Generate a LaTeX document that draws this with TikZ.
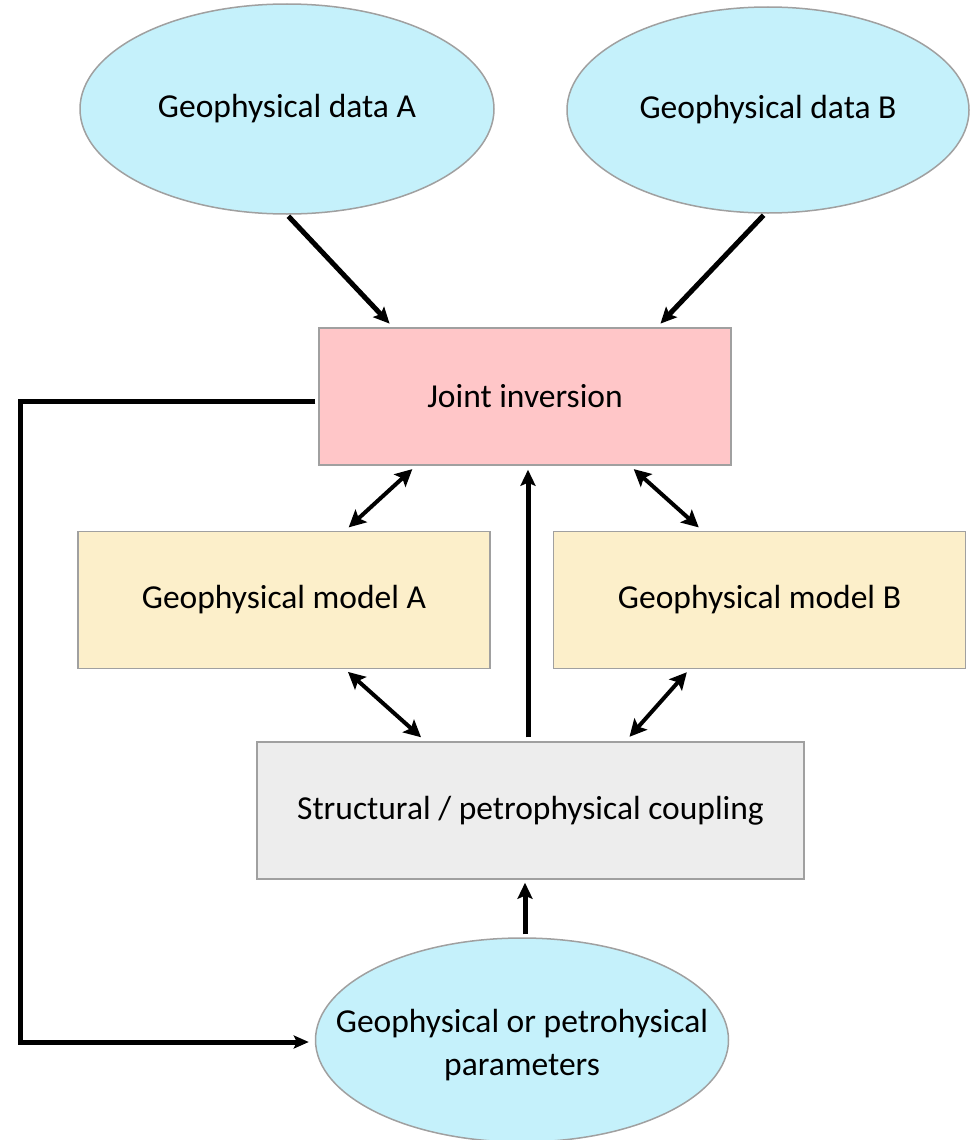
\documentclass[tikz,border=0pt]{standalone}
\usepackage{fontspec}
\setmainfont{Carlito}
\usetikzlibrary{shapes.geometric,arrows.meta,calc}
\definecolor{datafill}{HTML}{C5F1FB}
\definecolor{jointfill}{HTML}{FFC6C8}
\definecolor{modelfill}{HTML}{FCEFCA}
\definecolor{couplefill}{HTML}{EDEDED}
\definecolor{edgegray}{HTML}{A0A0A0}
\begin{document}
\begin{tikzpicture}[x=1pt,y=-1pt,
  every node/.style={font=\fontsize{33.5}{43}\selectfont, text=black},
  dataell/.style={ellipse, draw=edgegray, line width=1.5pt, fill=datafill, inner sep=0pt},
  boxnode/.style={rectangle, draw=edgegray, line width=1.5pt, inner sep=0pt, align=center},
  flow/.style={line width=5pt, -{Stealth[length=16pt,width=15pt,inset=3pt]}},
  twoway/.style={line width=4pt, {Stealth[length=17pt,width=17pt,inset=3.5pt]}-{Stealth[length=17pt,width=17pt,inset=3.5pt]}},
  feed/.style={line width=5pt, -{Stealth[length=15pt,width=13pt,inset=3pt]}}
]
\useasboundingbox (0,0) rectangle (969,1140);

% input data sets
\node[dataell, minimum width=414pt, minimum height=210pt,
      label={[align=center]center:Geophysical data A}] (dA) at (287,109) {};
\node[dataell, minimum width=402pt, minimum height=206pt,
      label={[align=center]center:Geophysical data B}] (dB) at (768,110) {};

% inversion and models
\node[boxnode, fill=jointfill, minimum width=412pt, minimum height=137pt] (ja) at (525,396.5) {Joint inversion};
\node[boxnode, fill=modelfill, minimum width=412pt, minimum height=137pt] (mA) at (284,600) {Geophysical model A};
\node[boxnode, fill=modelfill, minimum width=412pt, minimum height=137pt] (mB) at (759.5,600) {Geophysical model B};
\node[boxnode, fill=couplefill, minimum width=547pt, minimum height=137pt] (cp) at (530.5,810.5) {Structural / petrophysical coupling};

% parameters
\node[dataell, minimum width=413pt, minimum height=204pt,
      label={[align=center, yshift=-5pt]center:Geophysical or petrohysical\\parameters}] (par) at (522,1040) {};

% data into the inversion
\draw[flow, shorten >=5pt, shorten <=2pt] (dA.south) -- ([xshift=-132pt]ja.north);
\draw[flow, shorten >=5pt, shorten <=2pt] ([xshift=-3pt]dB.south) -- ([xshift=132pt]ja.north);

% feedback loop to the parameters
\draw[feed, shorten >=6pt, shorten <=3pt] ([yshift=-5pt]ja.west) -- ++(-298pt,0) |- ([yshift=-2pt]par.west);

% exchange between inversion, models and coupling
\draw[twoway, shorten <=5pt, shorten >=5pt] ([xshift=-109pt]ja.south) -- ([xshift=61pt]mA.north);
\draw[twoway, shorten <=5pt, shorten >=5pt] ([xshift=105pt]ja.south) -- ([xshift=-57pt]mB.north);
\draw[twoway, shorten <=4pt, shorten >=6pt] ([xshift=61pt]mA.south) -- ([xshift=-105pt]cp.north);
\draw[twoway, shorten <=4pt, shorten >=6pt] ([xshift=-70pt]mB.south) -- ([xshift=95pt]cp.north);

% coupling feeds the inversion, parameters feed the coupling
\draw[flow, shorten <=4pt, shorten >=4pt] ([xshift=-2.5pt]cp.north) -- ([xshift=-2.5pt]cp.north |- ja.south);
\draw[flow, shorten <=3pt, shorten >=3pt] ([xshift=3pt]par.north) -- ([xshift=3pt]par.north |- cp.south);
\end{tikzpicture}
\end{document}
